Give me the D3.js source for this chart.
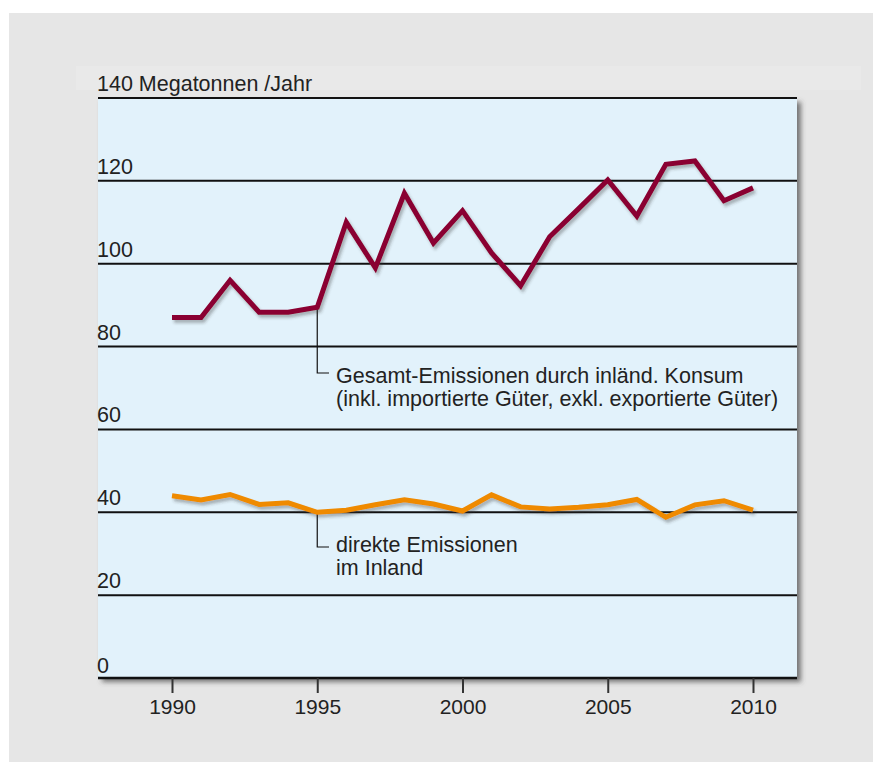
<!DOCTYPE html>
<html>
<head>
<meta charset="utf-8">
<script src="https://cdn.jsdelivr.net/npm/d3@7"></script>
<style>
  body { margin: 0; background: #fff; }
  text { font-family: "Liberation Sans", Arial, sans-serif; fill: #222; }
</style>
</head>
<body>
<div class="chart"></div>
<script>
// data (Megatonnen pro Jahr)
const years = d3.range(1990, 2011);
const gesamt = [87, 87, 96, 88.3, 88.3, 89.5, 110, 99, 117, 105, 112.8, 102.6, 94.7, 106.5, 113.3, 120.2, 111.5, 124, 124.8, 115.2, 118.3];
const direkt = [44, 43, 44.3, 41.9, 42.3, 40, 40.5, 41.8, 43, 42, 40.3, 44.2, 41.3, 40.8, 41.2, 41.8, 43.1, 38.8, 41.8, 42.8, 40.5];
const yTicks = [0, 20, 40, 60, 80, 100, 120, 140];
const xTicks = [1990, 1995, 2000, 2005, 2010];

const W = 873, H = 764;
const plot = {left: 98, right: 797, top: 98, bottom: 678};

const svg = d3.select('.chart').append('svg')
    .attr('width', W)
    .attr('height', H);

const defs = svg.append('defs');
const panelShadow = defs.append('filter').attr('id', 'panelShadow')
    .attr('x', '-5%').attr('y', '-5%').attr('width', '115%').attr('height', '115%');
panelShadow.append('feDropShadow')
    .attr('dx', 4).attr('dy', 4).attr('stdDeviation', 2.5)
    .attr('flood-color', '#444').attr('flood-opacity', 0.7);
const lineShadow = defs.append('filter').attr('id', 'lineShadow')
    .attr('x', '-5%').attr('y', '-20%').attr('width', '115%').attr('height', '150%');
lineShadow.append('feDropShadow')
    .attr('dx', 2).attr('dy', 3).attr('stdDeviation', 1.8)
    .attr('flood-color', '#333').attr('flood-opacity', 0.35);

// backgrounds
svg.append('rect')
    .attr('x', 9).attr('y', 13)
    .attr('width', W - 9).attr('height', H - 15)
    .attr('fill', '#e6e6e6');
svg.append('rect')
    .attr('x', 76).attr('y', 66)
    .attr('width', 785).attr('height', 24)
    .attr('fill', '#e9e9e9');

const x = d3.scaleLinear()
    .domain([1990, 2010])
    .range([172, 753]);

const y = d3.scaleLinear()
    .domain([0, 140])
    .range([plot.bottom, plot.top]);

svg.append('rect')
    .attr('x', plot.left).attr('y', plot.top)
    .attr('width', plot.right - plot.left).attr('height', plot.bottom - plot.top)
    .attr('fill', '#e2f2fb')
    .attr('filter', 'url(#panelShadow)');

// gridlines
svg.selectAll('.grid')
    .data(yTicks)
    .enter()
    .append('line')
    .attr('x1', plot.left).attr('x2', plot.right)
    .attr('y1', d => y(d)).attr('y2', d => y(d))
    .attr('stroke', '#111')
    .attr('stroke-width', d => d === 0 ? 2.5 : 2);

// y labels
svg.selectAll('.ylabel')
    .data(yTicks)
    .enter()
    .append('text')
    .attr('x', 97)
    .attr('y', d => y(d) - (d === 0 ? 5 : 7))
    .attr('font-size', '21.5px')
    .text(d => d === 140 ? '140 Megatonnen /Jahr' : d);

// x axis
const xAxis = d3.axisBottom(x)
    .tickValues(xTicks)
    .tickFormat(d3.format('d'))
    .tickSize(15)
    .tickPadding(6);

const gx = svg.append('g')
    .attr('transform', `translate(0, ${plot.bottom})`)
    .call(xAxis);
gx.select('.domain').remove();
gx.selectAll('.tick line').attr('stroke', '#333').attr('stroke-width', 2);
gx.selectAll('.tick text')
    .attr('font-size', '21px')
    .attr('font-family', '"Liberation Sans", Arial, sans-serif')
    .attr('fill', '#222');

// leader lines and annotations
const annotations = [
    {series: gesamt, year: 1995, down: 373, lines: ['Gesamt-Emissionen durch inländ. Konsum', '(inkl. importierte Güter, exkl. exportierte Güter)'], base: 383},
    {series: direkt, year: 1995, down: 547, lines: ['direkte Emissionen', 'im Inland'], base: 552}
];
annotations.forEach(a => {
    const i = years.indexOf(a.year);
    svg.append('path')
        .attr('d', d3.line()([[x(a.year), y(a.series[i])], [x(a.year), a.down], [329, a.down]]))
        .attr('fill', 'none')
        .attr('stroke', '#111')
        .attr('stroke-width', 1.2);
    const t = svg.append('text')
        .attr('x', 336)
        .attr('y', a.base)
        .attr('font-size', '21.5px');
    a.lines.forEach((l, k) => {
        t.append('tspan').attr('x', 336).attr('dy', k === 0 ? 0 : 22.5).text(l);
    });
});

// lines
const line = d3.line()
    .x((d, i) => x(years[i]))
    .y(d => y(d));

svg.append('path')
    .datum(direkt)
    .attr('d', line)
    .attr('fill', 'none')
    .attr('stroke', '#ef8a00')
    .attr('stroke-width', 5)
    .attr('filter', 'url(#lineShadow)');

svg.append('path')
    .datum(gesamt)
    .attr('d', line)
    .attr('fill', 'none')
    .attr('stroke', '#8a0030')
    .attr('stroke-width', 5)
    .attr('filter', 'url(#lineShadow)');
</script>
</body>
</html>
